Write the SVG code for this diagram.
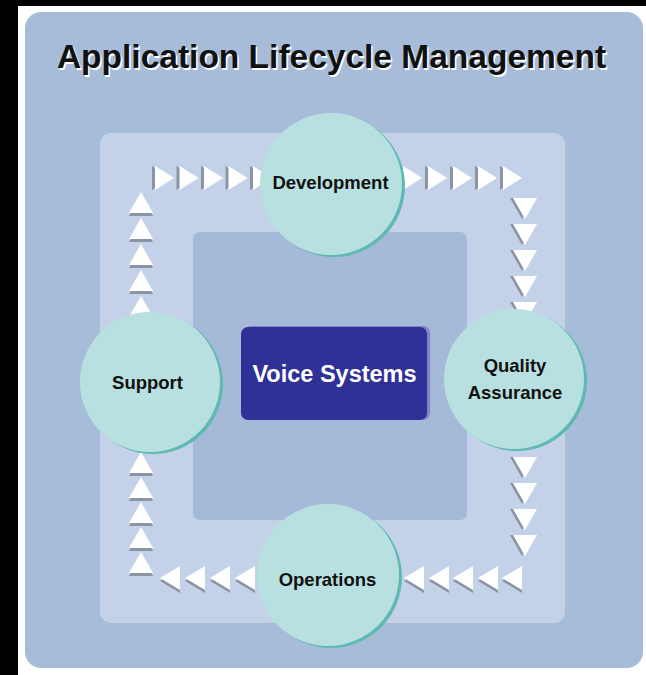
<svg xmlns="http://www.w3.org/2000/svg" xmlns:xlink="http://www.w3.org/1999/xlink" width="646" height="675" viewBox="0 0 646 675">
<style>
.lbl{font-family:"Liberation Sans",Arial,sans-serif;font-weight:bold;font-size:18.5px;fill:#111;text-anchor:middle}
.circ{fill:#b8e0e0}
.rim{fill:#5fb9b2}
.sh{fill:#8b94a3}
.tri{fill:#ffffff}
</style>
<defs>
<g id="ar"><polygon class="sh" points="-3,-12 -3,12 16,0"/><polygon class="tri" points="0,-12 0,12 19,0"/></g>
<g id="ad"><polygon class="sh" points="-15,0 9,0 -3,21"/><polygon class="tri" points="-12,0 12,0 0,21"/></g>
<g id="al"><polygon class="sh" points="0,3 20,-9 20,15"/><polygon class="tri" points="0,0 20,-12 20,12"/></g>
<g id="au"><polygon class="sh" points="0,3 -12,24 12,24"/><polygon class="tri" points="0,0 -12,21 12,21"/></g>
</defs>
<rect x="0" y="0" width="646" height="675" fill="#000"/>
<rect x="18" y="6" width="628" height="669" fill="#fff"/>
<rect x="25" y="12" width="618" height="656" rx="16" fill="#a6bcd9"/>
<rect x="100" y="133" width="465" height="490" rx="11" fill="#c3d2e8"/>
<rect x="193" y="232" width="274" height="288" rx="7" fill="#a4bad8"/>
<g id="title">
<text x="333" y="69.5" font-family="'Liberation Sans',Arial,sans-serif" font-weight="bold" font-size="33.5" fill="#fff" text-anchor="middle">Application Lifecycle Management</text>
<text x="331.5" y="68" font-family="'Liberation Sans',Arial,sans-serif" font-weight="bold" font-size="33.5" fill="#111" text-anchor="middle">Application Lifecycle Management</text>
</g>
<g id="connectors">
<use xlink:href="#ar" x="155" y="178"/>
<use xlink:href="#ar" x="179.5" y="178"/>
<use xlink:href="#ar" x="204" y="178"/>
<use xlink:href="#ar" x="228.5" y="178"/>
<use xlink:href="#ar" x="253" y="178"/>
<use xlink:href="#ar" x="403" y="178"/>
<use xlink:href="#ar" x="428" y="178"/>
<use xlink:href="#ar" x="453" y="178"/>
<use xlink:href="#ar" x="478" y="178"/>
<use xlink:href="#ar" x="503" y="178"/>
<use xlink:href="#ad" x="525" y="198"/>
<use xlink:href="#ad" x="525" y="224"/>
<use xlink:href="#ad" x="525" y="250"/>
<use xlink:href="#ad" x="525" y="276"/>
<use xlink:href="#ad" x="525" y="302"/>
<use xlink:href="#ad" x="525" y="457"/>
<use xlink:href="#ad" x="525" y="483"/>
<use xlink:href="#ad" x="525" y="509"/>
<use xlink:href="#ad" x="525" y="535"/>
<use xlink:href="#al" x="404" y="578"/>
<use xlink:href="#al" x="429" y="578"/>
<use xlink:href="#al" x="453" y="578"/>
<use xlink:href="#al" x="478" y="578"/>
<use xlink:href="#al" x="502" y="578"/>
<use xlink:href="#al" x="160" y="578"/>
<use xlink:href="#al" x="185" y="578"/>
<use xlink:href="#al" x="210" y="578"/>
<use xlink:href="#al" x="235" y="578"/>
<use xlink:href="#au" x="141" y="552"/>
<use xlink:href="#au" x="141" y="527"/>
<use xlink:href="#au" x="141" y="502"/>
<use xlink:href="#au" x="141" y="477"/>
<use xlink:href="#au" x="141" y="452"/>
<use xlink:href="#au" x="141" y="296"/>
<use xlink:href="#au" x="141" y="270"/>
<use xlink:href="#au" x="141" y="244"/>
<use xlink:href="#au" x="141" y="218"/>
<use xlink:href="#au" x="141" y="192"/>
</g>
<g id="voice-systems">
<rect x="244" y="326" width="186" height="94" rx="7" fill="#8583c8"/>
<rect x="241" y="327" width="186" height="93" rx="7" fill="#2f3197"/>
<text x="334.5" y="382" font-family="'Liberation Sans',Arial,sans-serif" font-weight="bold" font-size="23.5" fill="#fff" text-anchor="middle">Voice Systems</text>
</g>
<g id="development">
<circle class="rim" cx="334" cy="186" r="71"/>
<circle class="circ" cx="331" cy="184" r="71"/>
<text class="lbl" x="330.5" y="189">Development</text>
</g>
<g id="quality-assurance">
<circle class="rim" cx="517" cy="381" r="70"/>
<circle class="circ" cx="514" cy="379" r="70"/>
<text class="lbl" x="515" y="372">Quality</text>
<text class="lbl" x="515" y="399">Assurance</text>
</g>
<g id="operations">
<circle class="rim" cx="331" cy="577" r="71"/>
<circle class="circ" cx="328" cy="575" r="71"/>
<text class="lbl" x="327.5" y="586">Operations</text>
</g>
<g id="support">
<circle class="rim" cx="153" cy="384" r="70"/>
<circle class="circ" cx="150" cy="382" r="70"/>
<text class="lbl" x="147.5" y="389">Support</text>
</g>
</svg>
